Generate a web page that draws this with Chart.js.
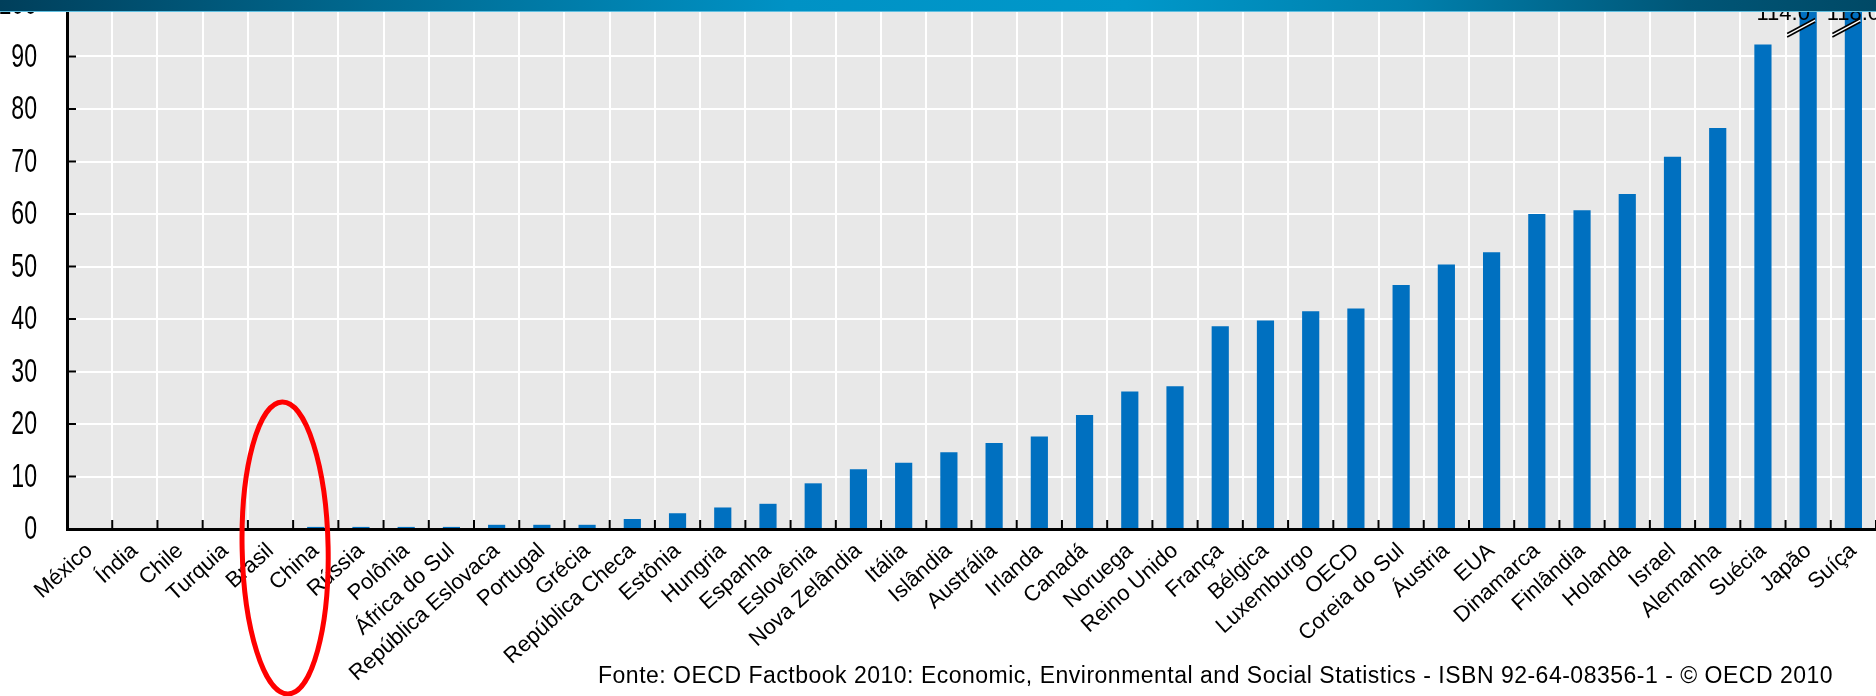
<!DOCTYPE html>
<html><head><meta charset="utf-8">
<script src="https://cdn.jsdelivr.net/npm/chart.js@4.4.1/dist/chart.umd.min.js"></script>
<style>
html,body{margin:0;padding:0;background:#fff;overflow:hidden}
#wrap{position:relative;width:1876px;height:696px;overflow:hidden}
#c{position:absolute;left:0;top:0}
#hdr{position:absolute;left:0;top:0;width:1876px;height:11px;z-index:2;
 background:linear-gradient(90deg,#003f5b 0%,#006a91 20%,#0092c5 42%,#0098ca 60%,#0080ad 75%,#005677 90%,#004966 100%);
 border-bottom:1px solid #5fbfe0}
#src{position:absolute;left:598px;top:662px;font-size:23px;letter-spacing:0.5px;font-family:"Liberation Sans",Arial,sans-serif;color:#000;white-space:nowrap}
</style></head>
<body>
<div id="wrap">
<canvas id="c" width="1876" height="696"></canvas>
<div id="hdr"></div>
<div id="src">Fonte: OECD Factbook 2010: Economic, Environmental and Social Statistics - ISBN 92-64-08356-1 - © OECD 2010</div>
</div>
<script>
const categories = ["México","Índia","Chile","Turquia","Brasil","China","Rússia","Polônia","África do Sul","República Eslovaca","Portugal","Grécia","República Checa","Estônia","Hungria","Espanha","Eslovênia","Nova Zelândia","Itália","Islândia","Austrália","Irlanda","Canadá","Noruega","Reino Unido","França","Bélgica","Luxemburgo","OECD","Coreia do Sul","Áustria","EUA","Dinamarca","Finlândia","Holanda","Israel","Alemanha","Suécia","Japão","Suíça"];
const values = [0,0,0,0,0,0.4,0.4,0.4,0.4,0.8,0.8,0.8,1.9,3.0,4.1,4.8,8.7,11.4,12.6,14.6,16.4,17.6,21.7,26.2,27.2,38.6,39.7,41.5,42.0,46.5,50.4,52.7,60.0,60.7,63.8,70.9,76.4,92.3,114.0,118.0];
const yTicks = [0,10,20,30,40,50,60,70,80,90,100];
const yMax = 100;
const highlighted = ["Brasil","China"];

const bgPlugin = {
  id:'bg',
  beforeDraw(chart){
    const {ctx, chartArea:a} = chart;
    ctx.save(); ctx.fillStyle='#E8E8E8';
    ctx.fillRect(a.left,a.top,a.right-a.left,a.bottom-a.top);
    ctx.restore();
  }
};

const decoPlugin = {
  id:'deco',
  afterDraw(chart){
    const {ctx, chartArea:a, scales:{x,y}} = chart;
    ctx.save();
    // y tick labels (condensed glyphs)
    ctx.fillStyle='#000'; ctx.font='34px "Liberation Sans", Arial, sans-serif';
    ctx.textAlign='right'; ctx.textBaseline='middle';
    yTicks.forEach(v=>{ const py=y.getPixelForValue(v);
      ctx.save(); ctx.translate(a.left-30, py+1); ctx.scale(0.68,1); ctx.fillText(String(v),0,0); ctx.restore(); });
    // inward ticks
    ctx.strokeStyle='#000'; ctx.lineWidth=2;
    yTicks.forEach(v=>{ if(v===0||v===yMax) return; const py=y.getPixelForValue(v);
      ctx.beginPath(); ctx.moveTo(a.left,py); ctx.lineTo(a.left+9,py); ctx.stroke(); });
    for(let i=0;i<=categories.length;i++){ const px=x.getPixelForValue(i-0.5);
      ctx.beginPath(); ctx.moveTo(px,a.bottom); ctx.lineTo(px,a.bottom-9); ctx.stroke(); }
    // truncated bars: break marks + value labels
    const meta = chart.getDatasetMeta(0);
    values.forEach((v,i)=>{
      if(v<=yMax) return;
      const bx = meta.data[i].x;
      const cx = bx-7, cy = 27;
      ctx.fillStyle='#fff'; ctx.strokeStyle='#000'; ctx.lineWidth=1.6;
      ctx.beginPath();
      ctx.moveTo(cx-14,cy+6.5); ctx.lineTo(cx+14,cy-8.5);
      ctx.lineTo(cx+14,cy-5); ctx.lineTo(cx-14,cy+10); ctx.closePath(); ctx.fill();
      ctx.beginPath(); ctx.moveTo(cx-14,cy+6.5); ctx.lineTo(cx+14,cy-8.5); ctx.stroke();
      ctx.beginPath(); ctx.moveTo(cx-14,cy+10); ctx.lineTo(cx+14,cy-5); ctx.stroke();
      ctx.fillStyle='#000'; ctx.font='22px "Liberation Sans", Arial, sans-serif';
      ctx.textAlign='center'; ctx.textBaseline='alphabetic';
      const off = (i===values.length-1)?0:-25;
      ctx.fillText(v.toFixed(1), bx+off, 20);
    });
    // red hand-drawn ellipse around highlighted categories
    const i0 = categories.indexOf(highlighted[0]), i1 = categories.indexOf(highlighted[1]);
    const ex = (x.getPixelForValue(i0)+x.getPixelForValue(i1))/2 - 8;
    ctx.strokeStyle='#FF0000'; ctx.lineWidth=5;
    ctx.beginPath(); ctx.ellipse(ex, 548, 43, 146, -0.02, 0, Math.PI*2); ctx.stroke();
    ctx.restore();
  }
};

new Chart(document.getElementById('c').getContext('2d'), {
  type:'bar',
  data:{labels:categories, datasets:[{data:values, backgroundColor:'#0070C0', barPercentage:0.38, categoryPercentage:1}]},
  options:{
    responsive:false, animation:false, devicePixelRatio:1,
    layout:{padding:{left:0,right:0,top:4,bottom:0}},
    plugins:{legend:{display:false}, tooltip:{enabled:false}, title:{display:false}},
    scales:{
      x:{
        grid:{color:'#fff',lineWidth:2,drawTicks:false,offset:true},
        border:{display:true,color:'#000',width:3},
        ticks:{font:{family:'"Liberation Sans", Arial, sans-serif',size:22},color:'#000',minRotation:42,maxRotation:42,autoSkip:false,padding:9},
        afterFit(s){ s.height=167; s.paddingLeft=0; s.paddingRight=0; }
      },
      y:{
        min:0,max:yMax,
        afterBuildTicks(s){ s.ticks = yTicks.map(v=>({value:v})); },
        grid:{color:'#fff',lineWidth:2,drawTicks:false},
        border:{display:true,color:'#000',width:3},
        ticks:{display:false},
        afterFit(s){ s.width=67; s.paddingTop=0; s.paddingBottom=0; }
      }
    }
  },
  plugins:[bgPlugin, decoPlugin]
});
</script>
</body></html>
